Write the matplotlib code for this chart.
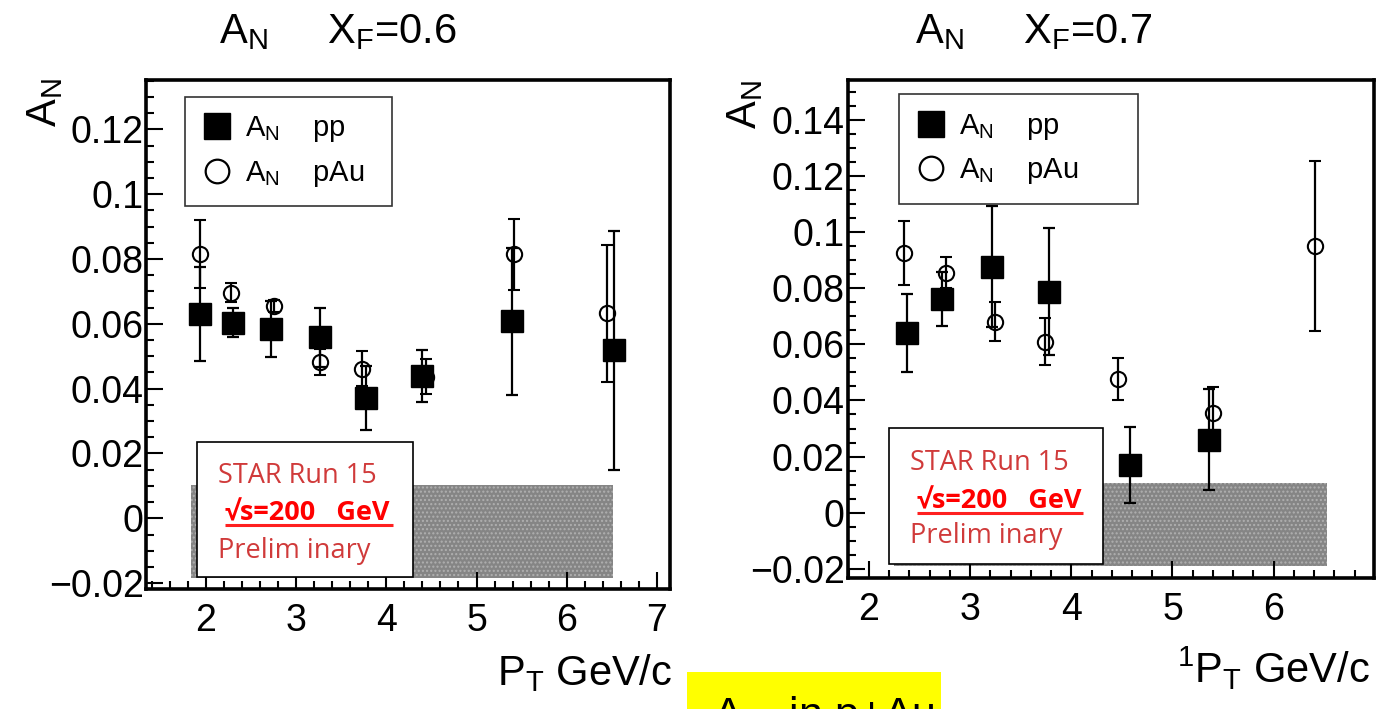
import matplotlib
matplotlib.use("Agg")
import matplotlib.pyplot as plt
from matplotlib.patches import Rectangle
from matplotlib.lines import Line2D
from matplotlib.ticker import MultipleLocator, FuncFormatter

plt.rcParams['font.family'] = ['Liberation Sans', 'DejaVu Sans']
plt.rcParams['mathtext.fontset'] = 'custom'
plt.rcParams['mathtext.rm'] = 'Liberation Sans'
plt.rcParams['mathtext.it'] = 'Liberation Sans:italic'
plt.rcParams['hatch.linewidth'] = 1.0

# x_F = 0.6
pt_pp_06 = [1.94, 2.30, 2.72, 3.27, 3.78, 4.39, 5.39, 6.52]
an_pp_06 = [0.063, 0.0604, 0.0584, 0.0558, 0.037, 0.0438, 0.0608, 0.0518]
err_pp_06 = [0.0144, 0.0044, 0.0086, 0.0092, 0.0099, 0.0080, 0.0227, 0.0368]
pt_pau_06 = [1.94, 2.28, 2.76, 3.26, 3.73, 4.44, 5.41, 6.45]
an_pau_06 = [0.0815, 0.0696, 0.0655, 0.0481, 0.0461, 0.0437, 0.0814, 0.0632]
err_pau_06 = [0.0105, 0.003, 0.002, 0.004, 0.0054, 0.0054, 0.011, 0.021]
sys_pt_06 = [1.83, 6.51]
sys_lo_06 = -0.0185
sys_hi_06 = 0.0103

# x_F = 0.7
pt_pp_07 = [2.38, 2.72, 3.22, 3.78, 4.58, 5.36]
an_pp_07 = [0.064, 0.0762, 0.0877, 0.0788, 0.017, 0.026]
err_pp_07 = [0.014, 0.0096, 0.0216, 0.0226, 0.0134, 0.018]
pt_pau_07 = [2.35, 2.76, 3.25, 3.74, 4.46, 5.40, 6.41]
an_pau_07 = [0.0925, 0.0856, 0.0681, 0.061, 0.0476, 0.0354, 0.0951]
err_pau_07 = [0.0115, 0.0055, 0.007, 0.0083, 0.0075, 0.0095, 0.0303]
sys_pt_07 = [2.25, 6.53]
sys_lo_07 = -0.019
sys_hi_07 = 0.0107

STAR_RED = '#d03a3a'


def fmt_tick(v, pos):
    s = '%g' % round(v, 4)
    return s.replace('-', '\u2212')


def draw_panel(ax, pt_pp, an_pp, err_pp, pt_pau, an_pau, err_pau,
               sys_pt, sys_lo, sys_hi, xlim, ylim, leg_anchor, leg_pad, box, txt):
    # systematic band
    ax.fill_between(sys_pt, [sys_lo] * 2, [sys_hi] * 2, facecolor='#858585',
                    edgecolor='#b0b0b0', hatch='....', linewidth=0, zorder=1)

    ax.errorbar(pt_pp, an_pp, yerr=err_pp, fmt='s', ms=16, color='k',
                elinewidth=1.6, capsize=4.5, capthick=1.6, zorder=4)
    ax.errorbar(pt_pau, an_pau, yerr=err_pau, fmt='o', ms=11, mfc='none',
                mec='k', mew=1.5, color='k', elinewidth=1.6, capsize=4.5,
                capthick=1.6, zorder=5)

    ax.set_xlim(*xlim)
    ax.set_ylim(*ylim)
    ax.xaxis.set_major_locator(MultipleLocator(1))
    ax.xaxis.set_minor_locator(MultipleLocator(0.2))
    ax.yaxis.set_major_locator(MultipleLocator(0.02))
    ax.yaxis.set_minor_locator(MultipleLocator(0.005))
    ax.yaxis.set_major_formatter(FuncFormatter(fmt_tick))
    ax.tick_params(which='both', direction='in', top=False, right=False,
                   labelsize=27, width=1.5)
    ax.tick_params(axis='y', which='major', length=12, pad=2)
    ax.tick_params(axis='y', which='minor', length=6)
    ax.tick_params(axis='x', which='major', length=12, pad=10)
    ax.tick_params(axis='x', which='minor', length=6)
    for sp in ax.spines.values():
        sp.set_linewidth(2.6)

    handles = [
        Line2D([], [], marker='s', ls='none', color='k', ms=19),
        Line2D([], [], marker='o', ls='none', mfc='none', mec='k', mew=1.6, ms=17),
    ]
    labels = [r'$\mathregular{A_N}$    pp' + leg_pad,
              r'$\mathregular{A_N}$    pAu' + leg_pad]
    leg = ax.legend(handles, labels, loc='upper left', bbox_to_anchor=leg_anchor,
                    fontsize=21, frameon=True, fancybox=False, borderpad=0.6,
                    labelspacing=0.5, handlelength=1.0, handletextpad=0.45,
                    borderaxespad=0)
    leg.get_frame().set_edgecolor('k')
    leg.get_frame().set_linewidth(1.2)
    leg.set_zorder(6)

    # STAR label box
    x0, y0, x1, y1 = box
    ax.add_patch(Rectangle((x0, y0), x1 - x0, y1 - y0, transform=ax.transAxes,
                           facecolor='white', edgecolor='k', lw=1.2, zorder=3))
    tx, ty1, tx2, ty2, ty3, ul0, ul1, uly = txt
    fam = ['Open Sans', 'DejaVu Sans']
    ax.text(tx, ty1, 'STAR Run 15', transform=ax.transAxes, color=STAR_RED,
            fontsize=19.5, family=fam, va='baseline', zorder=3.5)
    ax.text(tx2, ty2, '\u221as=200   GeV', transform=ax.transAxes, color='#ff0000',
            fontsize=19.5, family=fam, fontweight='bold', va='baseline', zorder=3.5)
    ax.plot([ul0, ul1], [uly, uly], transform=ax.transAxes, color='#ff2020',
            lw=2.2, zorder=3.5, solid_capstyle='butt')
    ax.text(tx, ty3, 'Prelim inary', transform=ax.transAxes, color=STAR_RED,
            fontsize=19.5, family=fam, va='baseline', zorder=3.5)


fig = plt.figure(figsize=(13.86, 7.09), dpi=100)
ax1 = fig.add_axes([0.1056, 0.1688, 0.3775, 0.7183])
ax2 = fig.add_axes([0.6115, 0.1843, 0.3798, 0.7028])

draw_panel(ax1, pt_pp_06, an_pp_06, err_pp_06, pt_pau_06, an_pau_06, err_pau_06,
           sys_pt_06, sys_lo_06, sys_hi_06, (1.34, 7.14), (-0.0219, 0.1352),
           (0.0738, 0.967), '  ', (0.0973, 0.0247, 0.510, 0.2898),
           (0.1369, 0.2087, 0.1502, 0.1361, 0.0615, 0.1502, 0.4713, 0.1263))
draw_panel(ax2, pt_pp_07, an_pp_07, err_pp_07, pt_pau_07, an_pau_07, err_pau_07,
           sys_pt_07, sys_lo_07, sys_hi_07, (1.79, 6.99), (-0.0234, 0.1542),
           (0.0976, 0.9713), '      ', (0.0792, 0.0287, 0.4858, 0.301),
           (0.1185, 0.2173, 0.1318, 0.1411, 0.0708, 0.1318, 0.4472, 0.131))

# panel titles
fig.text(0.2435, 0.939, r'$\mathregular{A_N}$     $\mathregular{X_F}$=0.6',
         fontsize=30, ha='center', va='baseline')
fig.text(0.7455, 0.939, r'$\mathregular{A_N}$     $\mathregular{X_F}$=0.7',
         fontsize=30, ha='center', va='baseline')

# axis titles
fig.text(0.0325, 0.89, r'$\mathregular{A_N}$', fontsize=30, rotation=90,
         ha='center', va='top')
fig.text(0.5375, 0.887, r'$\mathregular{A_N}$', fontsize=30, rotation=90,
         ha='center', va='top')
fig.text(0.485, 0.0339, r'$\mathregular{P_T}$ GeV/c', fontsize=30,
         ha='right', va='baseline')
fig.text(0.9885, 0.0367, r'$\mathregular{^1P_T}$ GeV/c', fontsize=30,
         ha='right', va='baseline')

# yellow caption strip at the bottom edge
fig.patches.append(Rectangle((0.4959, -0.05), 0.1828, 0.1026, transform=fig.transFigure,
                             facecolor='#ffff00', edgecolor='none', zorder=0))
fig.text(0.5145, -0.0254, r'$\mathregular{A_N}$  in p+Au', fontsize=31,
         ha='left', va='baseline')

fig.savefig('out.png', dpi=100)
